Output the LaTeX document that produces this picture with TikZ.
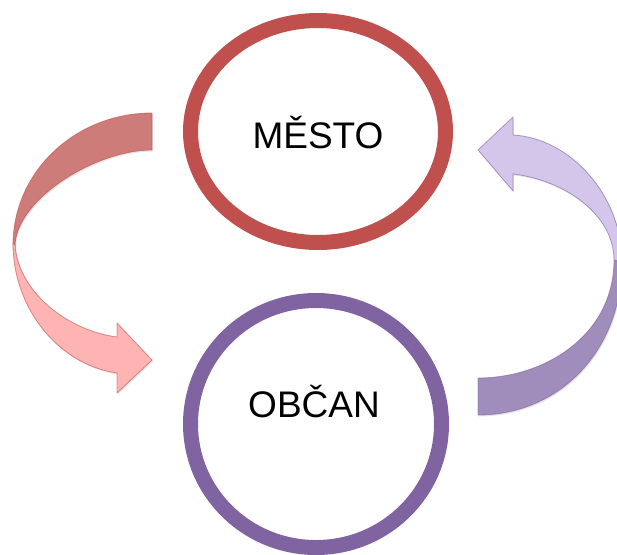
\documentclass[tikz,border=0pt]{standalone}
\usepackage{fontspec}
\setmainfont{Liberation Sans}
\usetikzlibrary{shapes.geometric, calc, shadows}
\definecolor{cityRed}{RGB}{192,80,77}
\definecolor{citizenPurple}{RGB}{128,100,162}
\definecolor{redBack}{RGB}{206,124,122}
\definecolor{redFront}{RGB}{255,180,180}
\definecolor{violetBack}{RGB}{160,141,187}
\definecolor{violetFront}{RGB}{211,198,234}

\begin{document}
\begin{tikzpicture}[x=1pt, y=-1pt, line join=round,
	ring/.style={ellipse, draw, line width=15pt, inner sep=0pt},
	word/.style={font=\fontsize{37}{40}\selectfont, anchor=base},
	band/.style={line width=0.8pt, draw opacity=0.6,
		drop shadow={opacity=0.2, shadow xshift=1pt, shadow yshift=-1.5pt}}]

	\useasboundingbox (0,0) rectangle (617,554);
	\clip (0,0) rectangle (617,554);

	% left arrow, from MESTO down to OBCAN
	\filldraw[band, draw=cityRed, fill=redBack] (152,113) .. controls (75,113) and (13,172) .. (13,245) -- (15,247) .. controls (15,200) and (95,150) .. (152,150) -- cycle;
	\filldraw[band, draw=cityRed, fill=redFront] (13,243) .. controls (13,310) and (60,365) .. (117,373) -- (117,393) -- (152,360) -- (117,323) -- (117,337) .. controls (65,330) and (18,290) .. (15,245) -- cycle;

	% right arrow, from OBCAN up to MESTO
	\filldraw[band, draw=citizenPurple, fill=violetBack] (478,378) .. controls (545,378) and (614,335) .. (614,260) -- (622,262) .. controls (622,350) and (560,415) .. (478,415) -- cycle;
	\filldraw[band, draw=citizenPurple, fill=violetFront] (622,262) .. controls (622,195) and (570,138) .. (513,135) -- (513,117) -- (478,150) -- (513,191) -- (513,174) .. controls (565,180) and (614,215) .. (614,260) -- cycle;

	\node[ring, draw=cityRed, minimum width=255pt, minimum height=222pt] (mesto) at (318,131.5) {};
	\node[ring, draw=citizenPurple, minimum width=251pt, minimum height=247pt] (obcan) at (316,424) {};

	\node[word] (mestoText) at ($ (mesto.center)+(0,17) $) {MĚSTO};
	\node[word] (obcanText) at ($ (obcan.center)+(-2,-7) $) {OBČAN};

\end{tikzpicture}
\end{document}
